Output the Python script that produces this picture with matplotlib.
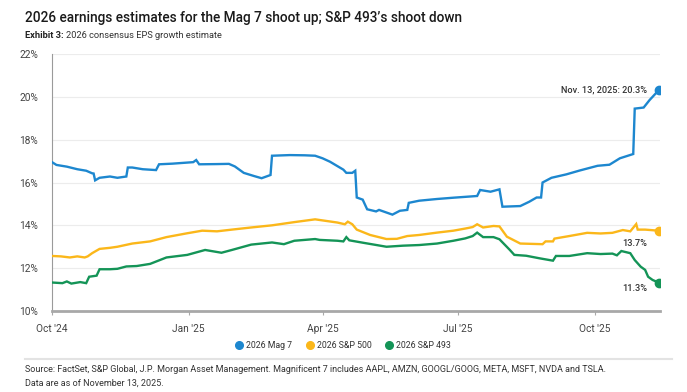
import matplotlib
matplotlib.use("Agg")
import matplotlib.pyplot as plt
import matplotlib.dates as mdates
import pandas as pd
from matplotlib.lines import Line2D

plt.rcParams['font.family'] = ['Roboto', 'DejaVu Sans']

# ---- data ----
mag7_dates = ["2024-10-01","2024-10-04","2024-10-11","2024-10-18","2024-10-24","2024-10-28","2024-10-29","2024-10-30",
    "2024-11-02","2024-11-09","2024-11-14","2024-11-20","2024-11-21","2024-11-24","2024-12-01","2024-12-10","2024-12-12",
    "2024-12-21","2025-01-04","2025-01-06","2025-01-08","2025-01-20","2025-01-28","2025-02-01","2025-02-07","2025-02-14",
    "2025-02-19","2025-02-23","2025-02-25","2025-02-26","2025-03-10","2025-03-20","2025-03-27","2025-04-01","2025-04-06",
    "2025-04-15","2025-04-17","2025-04-21","2025-04-23","2025-04-24","2025-04-28","2025-05-01","2025-05-07","2025-05-09",
    "2025-05-18","2025-05-23","2025-05-28","2025-05-29","2025-06-05","2025-06-17","2025-06-28","2025-07-06","2025-07-14",
    "2025-07-16","2025-07-23","2025-07-29","2025-07-31","2025-08-12","2025-08-18","2025-08-23","2025-08-26","2025-08-27",
    "2025-09-02","2025-09-12","2025-09-21","2025-10-03","2025-10-11","2025-10-18","2025-10-27","2025-10-28","2025-11-03",
    "2025-11-07","2025-11-13"]
mag7_vals = [16.95,16.82,16.74,16.62,16.55,16.43,16.42,16.1,
    16.22,16.28,16.22,16.28,16.7,16.7,16.62,16.58,16.85,
    16.88,16.95,17.05,16.85,16.86,16.87,16.75,16.45,16.3,
    16.2,16.3,16.35,17.25,17.28,17.27,17.25,17.13,16.97,
    16.6,16.45,16.45,16.55,15.3,15.2,14.75,14.65,14.72,
    14.5,14.68,14.72,15.05,15.15,15.23,15.29,15.33,15.37,
    15.65,15.57,15.68,14.87,14.9,15.1,15.3,15.3,16.0,
    16.22,16.38,16.56,16.78,16.83,17.13,17.33,19.45,19.5,
    19.85,20.3]

sp500_dates = ["2024-10-01","2024-10-07","2024-10-13","2024-10-18","2024-10-23","2024-10-25","2024-10-28","2024-11-02",
    "2024-11-09","2024-11-14","2024-11-24","2024-12-06","2024-12-17","2024-12-31","2025-01-10","2025-01-20","2025-01-30",
    "2025-02-12","2025-02-26","2025-03-13","2025-03-27","2025-03-30","2025-04-11","2025-04-16","2025-04-18","2025-04-21",
    "2025-04-24","2025-05-03","2025-05-14","2025-05-21","2025-05-28","2025-06-05","2025-06-17","2025-06-28","2025-07-06",
    "2025-07-11","2025-07-14","2025-07-18","2025-07-25","2025-07-29","2025-08-03","2025-08-12","2025-08-27","2025-08-29",
    "2025-09-03","2025-09-04","2025-09-14","2025-09-26","2025-10-05","2025-10-13","2025-10-20","2025-10-25","2025-10-29",
    "2025-10-30","2025-11-04","2025-11-13"]
sp500_vals = [12.57,12.55,12.5,12.55,12.5,12.55,12.7,12.9,
    12.95,13.0,13.15,13.25,13.45,13.63,13.75,13.72,13.8,
    13.9,14.0,14.15,14.28,14.25,14.13,14.05,14.17,14.05,
    13.8,13.55,13.36,13.37,13.5,13.55,13.66,13.75,13.85,
    13.92,14.05,13.9,13.97,13.95,13.47,13.15,13.12,13.25,
    13.25,13.38,13.5,13.65,13.62,13.65,13.78,13.72,14.06,
    13.8,13.8,13.75]

sp493_dates = ["2024-10-01","2024-10-08","2024-10-11","2024-10-14","2024-10-20","2024-10-24","2024-10-26","2024-10-31",
    "2024-11-02","2024-11-09","2024-11-14","2024-11-20","2024-11-27","2024-12-06","2024-12-17","2024-12-31","2025-01-12",
    "2025-01-23","2025-01-30","2025-02-12","2025-02-26","2025-03-06","2025-03-13","2025-03-27","2025-03-30","2025-04-11",
    "2025-04-15","2025-04-17","2025-04-19","2025-04-28","2025-05-14","2025-05-25","2025-06-05","2025-06-17","2025-06-28",
    "2025-07-06","2025-07-11","2025-07-14","2025-07-18","2025-07-25","2025-07-29","2025-08-05","2025-08-08","2025-08-16",
    "2025-08-25","2025-09-03","2025-09-05","2025-09-14","2025-09-26","2025-10-05","2025-10-13","2025-10-16","2025-10-19",
    "2025-10-25","2025-10-28","2025-11-01","2025-11-04","2025-11-06","2025-11-09","2025-11-13"]
sp493_vals = [11.33,11.3,11.38,11.28,11.35,11.3,11.6,11.65,
    11.95,11.95,11.97,12.08,12.1,12.2,12.5,12.62,12.85,
    12.72,12.85,13.1,13.2,13.12,13.28,13.36,13.32,13.28,
    13.25,13.45,13.3,13.19,13.0,13.05,13.08,13.15,13.28,
    13.39,13.5,13.66,13.45,13.45,13.35,12.85,12.62,12.58,
    12.46,12.35,12.57,12.57,12.7,12.66,12.68,12.6,12.8,
    12.7,12.38,12.07,11.92,11.6,11.45,11.33]

series_names = ["2026 Mag 7", "2026 S&P 500", "2026 S&P 493"]
colors = ["#1d87cf", "#fbb71a", "#149457"]
y_ticks = [10, 12, 14, 16, 18, 20, 22]
x_ticks = ["2024-10-01", "2025-01-01", "2025-04-01", "2025-07-01", "2025-10-01"]
x_tick_labels = ["Oct '24", "Jan '25", "Apr '25", "Jul '25", "Oct '25"]
end_labels = ["Nov. 13, 2025: 20.3%", "13.7%", "11.3%"]

# ---- figure ----
fig = plt.figure(figsize=(6.87, 3.92), dpi=100)
fig.patch.set_facecolor("white")
ax = fig.add_axes([52/687, 1-311/392, 608/687, 257/392])

all_series = [(mag7_dates, mag7_vals), (sp500_dates, sp500_vals), (sp493_dates, sp493_vals)]
for (d, v), c in zip(all_series, colors):
    dd = pd.to_datetime(d)
    ax.plot(dd, v, color=c, lw=1.7, solid_joinstyle="miter", zorder=3)
    ax.plot(dd[-1:], v[-1:], 'o', color=c, ms=6, zorder=4)

ax.set_ylim(10, 22)
ax.set_xlim(pd.Timestamp("2024-10-01"), pd.Timestamp("2025-11-14"))
ax.set_yticks(y_ticks)
ax.set_yticklabels([f"{t}%" for t in y_ticks])
ax.set_xticks(pd.to_datetime(x_ticks))
ax.set_xticklabels(x_tick_labels)
ax.grid(axis="y", color="#ececec", lw=0.8, zorder=0)
ax.grid(axis="x", visible=False)
for s in ["top", "right"]:
    ax.spines[s].set_visible(False)
ax.spines["left"].set_color("#9a9a9a")
ax.spines["left"].set_linewidth(0.8)
ax.spines["bottom"].set_color("#a8a8a8")
ax.spines["bottom"].set_linewidth(2.0)
ax.tick_params(axis="y", length=0, labelsize=7.3, labelcolor="#444444", pad=10)
ax.tick_params(axis="x", length=3, width=0.8, color="#a8a8a8", labelsize=7.3, labelcolor="#444444", pad=6)

# end labels
end_dates = [pd.Timestamp(mag7_dates[-1]), pd.Timestamp(sp500_dates[-1]), pd.Timestamp(sp493_dates[-1])]
end_vals = [mag7_vals[-1], sp500_vals[-1], sp493_vals[-1]]
ax.annotate(end_labels[0], (end_dates[0], end_vals[0]), xytext=(-8, 0), textcoords="offset points",
            ha="right", va="center", fontsize=6.6, color="#333333", fontweight="medium")
ax.annotate(end_labels[1], (end_dates[1], end_vals[1]), xytext=(-8, -9), textcoords="offset points",
            ha="right", va="center", fontsize=6.6, color="#333333", fontweight="medium")
ax.annotate(end_labels[2], (end_dates[2], end_vals[2]), xytext=(-8, -4), textcoords="offset points",
            ha="right", va="center", fontsize=6.6, color="#333333", fontweight="medium")

# titles
x0 = 25/687
fig.text(x0, 1-18/392, "2026 earnings estimates for the Mag 7 shoot up; S&P 493\u2019s shoot down",
         fontsize=9.8, fontweight="medium", color="#1a1a1a", va="center", ha="left")
t1 = fig.text(x0, 1-36/392, "Exhibit 3:", fontsize=6.7, fontweight="bold", color="#222222", va="center", ha="left")
fig.canvas.draw()
bb = t1.get_window_extent()
fig.text((bb.x1 + 2)/687, 1-36/392, "2026 consensus EPS growth estimate", fontsize=6.7, color="#333333",
         va="center", ha="left")

# legend
handles = [Line2D([0], [0], marker="o", color="none", markerfacecolor=c, markeredgecolor=c, markersize=5.5)
           for c in colors]
fig.legend(handles, series_names, loc="center", bbox_to_anchor=(343/687, 1-345.5/392), ncol=3, frameon=False,
           fontsize=6.3, handletextpad=0.3, columnspacing=1.5, handlelength=1.0, labelcolor="#333333")

# separator line
fig.add_artist(Line2D([25/687, 672/687], [1-359/392, 1-359/392], color="#e3e3e3", lw=1.5))

fig.text(x0, 1-370/392, "Source: FactSet, S&P Global, J.P. Morgan Asset Management. Magnificent 7 includes AAPL, AMZN, GOOGL/GOOG, META, MSFT, NVDA and TSLA.",
         fontsize=6.5, color="#333333", va="center", ha="left")
fig.text(x0, 1-383/392, "Data are as of November 13, 2025.", fontsize=6.5, color="#333333", va="center", ha="left")

fig.savefig("out.png", dpi=100, facecolor="white")
